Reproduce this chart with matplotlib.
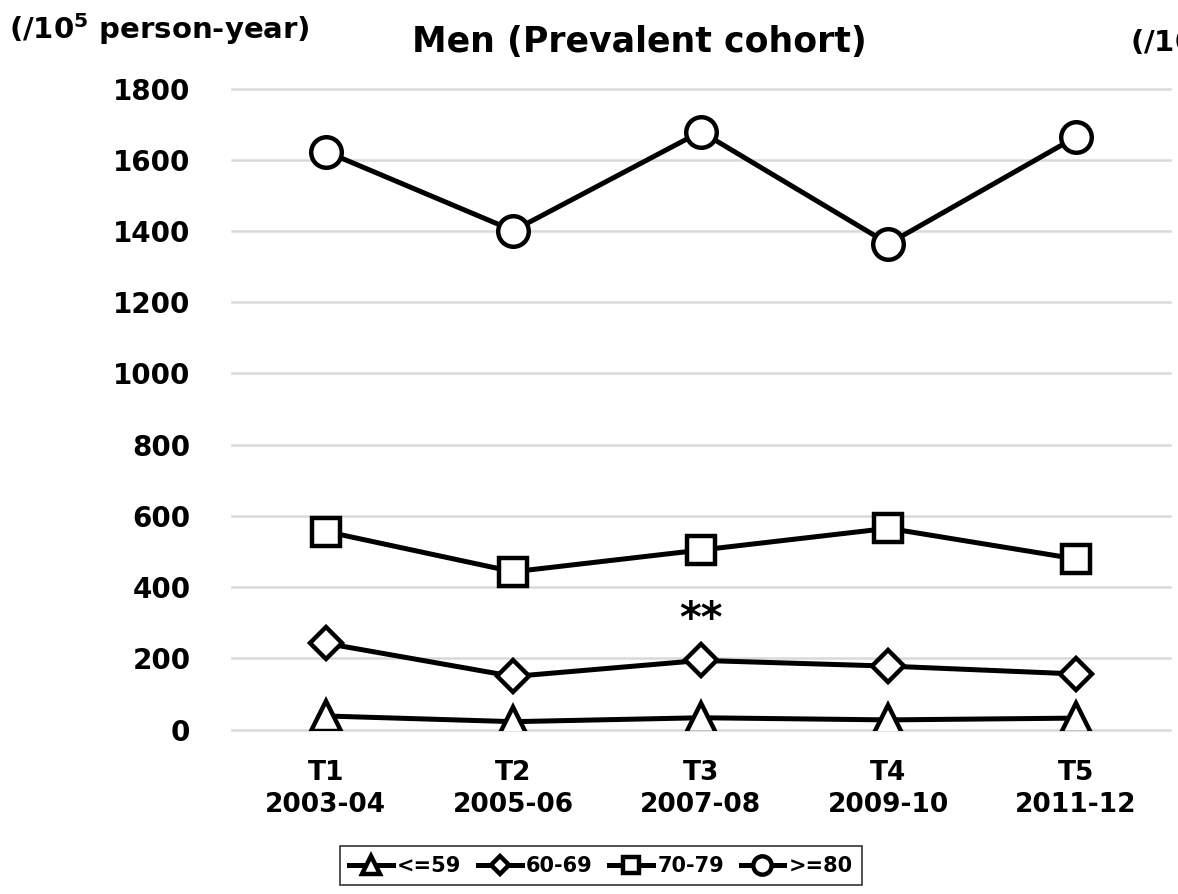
import numpy as np
import matplotlib.pyplot as plt

plt.rcParams['font.family'] = ['DejaVu Sans']
plt.rcParams['font.weight'] = 'bold'

periods = ['T1\n2003-04', 'T2\n2005-06', 'T3\n2007-08', 'T4\n2009-10', 'T5\n2011-12']
age_59 = [38, 22, 33, 27, 32]
age_60_69 = [242, 149, 194, 178, 156]
age_70_79 = [556, 443, 504, 565, 479]
age_80 = [1623, 1401, 1679, 1364, 1664]
labels = ['<=59', '60-69', '70-79', '>=80']
markers = ['^', 'D', 's', 'o']
star_pos = 2
star_val = 308

fig = plt.figure(figsize=(11.78, 8.94), dpi=100)
ax = fig.add_axes([0.197, 0.184, 0.796, 0.717])

x = np.arange(len(periods))
series = [age_59, age_60_69, age_70_79, age_80]
sizes = [21, 16, 20, 22]
handles = []
for vals, lab, m, ms in zip(series, labels, markers, sizes):
    h, = ax.plot(x, vals, color='black', lw=3.6, marker=m, ms=ms,
                 mfc='white', mec='black', mew=3.2, label=lab, zorder=3)
    handles.append(h)

ax.text(star_pos, star_val, '**', ha='center', va='center', fontsize=30,
        fontweight='bold')

ax.set_xlim(-0.5, 4.5)
ax.set_ylim(0, 1800)
ax.set_yticks(np.arange(0, 1801, 200))
ax.set_xticks(x)
ax.set_xticklabels(periods, fontsize=19, fontweight='bold', linespacing=1.3)
ax.tick_params(axis='y', labelsize=20, length=0, pad=30)
ax.tick_params(axis='x', length=0, pad=22)
ax.grid(axis='y', color='#d9d9d9', lw=1.8)
for gl in ax.get_ygridlines():
    gl.set_clip_on(False)
ax.set_axisbelow(True)
for s in ax.spines.values():
    s.set_visible(False)

fig.text(0.543, 0.953, 'Men (Prevalent cohort)', ha='center', va='center',
         fontsize=25, fontweight='bold')
fig.text(0.008, 0.968, '(/10$^{\\mathbf{5}}$ person-year)', ha='left', va='center',
         fontsize=21, fontweight='bold')
fig.text(0.959, 0.953, '(/10$^{\\mathbf{5}}$ person-year)', ha='left', va='center',
         fontsize=21, fontweight='bold')

leg = fig.legend(handles=handles, loc='center', bbox_to_anchor=(0.510, 0.0315),
                 ncol=4, frameon=True, fancybox=False, fontsize=15,
                 markerscale=0.6, handlelength=2.1, handletextpad=0.2,
                 columnspacing=0.8, borderpad=0.45)
leg.get_frame().set_edgecolor('black')
leg.get_frame().set_linewidth(1.2)

fig.savefig('out.png', dpi=100)
